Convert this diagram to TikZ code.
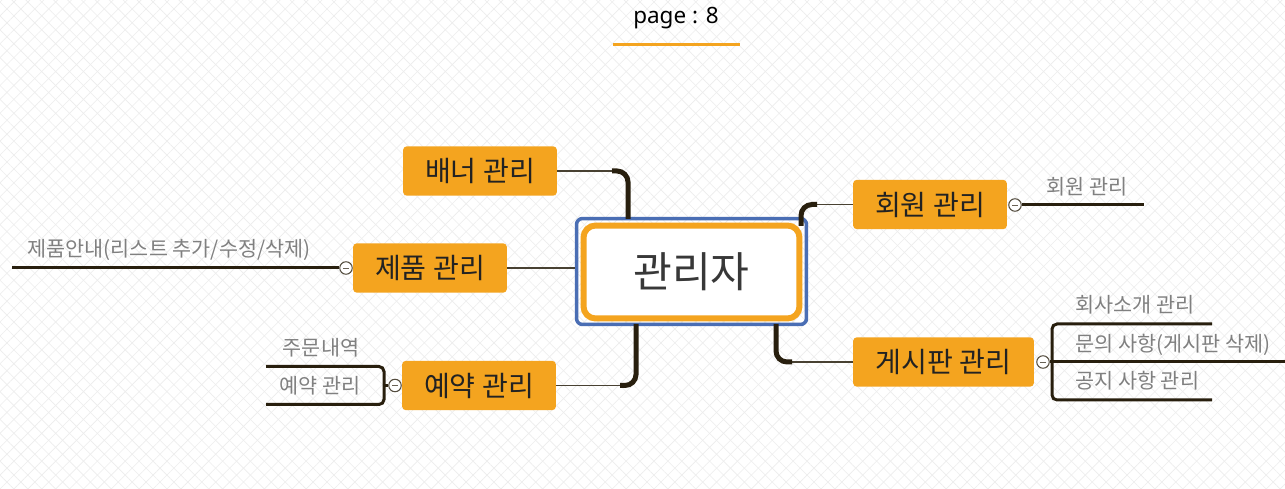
\documentclass[tikz,border=0pt]{standalone}
\usepackage{fontspec}
\usepackage{xcolor}
\usepackage{tikz}
\usetikzlibrary{calc,patterns.meta}
\setmainfont{Noto Sans CJK KR}
\newfontfamily\pagefont{Noto Sans}
\definecolor{morange}{RGB}{244, 164, 31}
\definecolor{mblue}{RGB}{74, 110, 180}
\definecolor{mdark}{RGB}{40, 31, 14}
\definecolor{mgray}{RGB}{128, 128, 128}
\definecolor{mtext}{RGB}{34, 34, 34}
\def\topicSize{\fontsize{16}{18}\selectfont}
\def\leafSize{\fontsize{11.8}{13}\selectfont}
\tikzset{
  topic/.style={fill=morange, rounded corners=0.08cm, minimum width=3.08cm, minimum height=0.99cm, inner sep=0pt, text=mtext, font=\topicSize},
  hub/.style={draw=morange, fill=white, line width=0.12cm, rounded corners=0.24cm, minimum width=4.32cm, minimum height=1.86cm, text=mtext!90!white, font=\fontsize{24}{26}\selectfont},
  selframe/.style={draw=mblue, line width=0.07cm, rounded corners=0.12cm, minimum width=4.6cm, minimum height=2.12cm},
  leaf/.style={text=mgray, inner sep=0pt, font=\leafSize},
  knob/.style={circle, draw=mdark!80!white, fill=white, line width=0.6pt, minimum size=0.25cm, inner sep=0pt,
    path picture={\draw[mdark!70!white, line width=0.4pt] ([xshift=-1.7pt]path picture bounding box.center) -- ([xshift=1.7pt]path picture bounding box.center);}},
  twig/.style={draw=mdark!85!white, line width=0.03cm},
  trunk/.style={draw=mdark, line width=0.1cm, rounded corners=0.22cm},
  stem/.style={draw=mdark, line width=0.06cm, rounded corners=0.1cm}
}

\begin{document}
\begin{tikzpicture}[x=0.02cm, y=-0.02cm]
  \useasboundingbox (0,0) rectangle (1285,489);
  \fill[white] (0,0) rectangle (1285,489);
  \fill[pattern={Lines[angle=45,distance=5.6pt,line width=0.35pt]}, pattern color=black!7] (0,0) rectangle (1285,489);
  \fill[pattern={Lines[angle=-45,distance=5.6pt,line width=0.35pt]}, pattern color=black!7] (0,0) rectangle (1285,489);

  \node[inner sep=0pt, font=\pagefont\fontsize{12.8}{14}\selectfont] (title) at (676,18) {page : 8};
  \coordinate (ulL) at (613,45);
  \coordinate (ulR) at (740,45);
  \draw[morange, line width=0.06cm] (ulL) -- (ulR);

  \node[selframe] (sel) at (691.5,271.5) {};
  \node[hub] (hub) at (691.5,272) {관리자};

  \node[topic] (banner) at (480,171) {배너 관리};
  \node[topic] (product) at (430,268) {제품 관리};
  \node[topic] (booking) at (479,385.5) {예약 관리};
  \node[topic] (member) at (930,204.5) {회원 관리};
  \node[topic, minimum width=3.62cm] (board) at (943.5,362) {게시판 관리};

  \coordinate (hubNW) at (628,219);
  \coordinate (hubSW) at (636,324);
  \coordinate (hubNE) at (801,226);
  \coordinate (hubSE) at (776,324);
  \coordinate (bj) at (banner.east -| hubNW);
  \coordinate (kj) at (booking.east -| hubSW);
  \coordinate (mj) at (member.west -| hubNE);
  \coordinate (gj) at (board.west -| hubSE);
  \draw[twig] (banner.east) -- ($(bj)+(-14,0)$);
  \draw[trunk] ($(bj)+(-16,0)$) -| (hubNW);
  \draw[twig] (booking.east) -- ($(kj)+(-14,0)$);
  \draw[trunk] ($(kj)+(-16,0)$) -| (hubSW);
  \draw[twig] (member.west) -- ($(mj)+(14,0)$);
  \draw[trunk] (hubNE) |- ($(mj)+(16,0)$);
  \draw[twig] (board.west) -- ($(gj)+(14,0)$);
  \draw[trunk] (hubSE) |- ($(gj)+(16,0)$);
  \draw[twig] (product.east) -- (product.east -| sel.west);

  \node[knob] (pk) at (346,268) {};
  \coordinate (pend) at (12,268);
  \draw[stem] (pk.west) -- (pend);
  \node[leaf] (pinfo) at (169,250) {제품안내(리스트 추가/수정/삭제)};

  \node[knob] (bk) at (395,385.5) {};
  \coordinate (bt) at (266,366.5);
  \coordinate (bb) at (266,404.5);
  \coordinate (bc) at (384,385.5);
  \draw[stem] (bt) -| (bc) |- (bb);
  \draw[stem] (bc) -- (bk.west);
  \node[leaf] (order) at (321,348) {주문내역};
  \node[leaf] (bookl) at (320,386) {예약 관리};

  \node[knob] (mk) at (1015,205) {};
  \coordinate (mend) at (1144,205);
  \draw[stem] (mk.east) -- (mend);
  \node[leaf] (meml) at (1087,187) {회원 관리};

  \node[knob] (gk) at (1043,362) {};
  \coordinate (gt) at (1212,324);
  \coordinate (gm) at (1285,362);
  \coordinate (gb) at (1212,400);
  \coordinate (gc) at (1052,362);
  \draw[stem] (gt) -| (gc) |- (gb);
  \draw[stem] (gk.east) -- (gm);
  \node[leaf, anchor=west] (about) at (1075,305) {회사소개 관리};
  \node[leaf, anchor=west] (qna) at (1075,345) {문의 사항(게시판 삭제)};
  \node[leaf, anchor=west] (notice) at (1075,381) {공지 사항 관리};
\end{tikzpicture}
\end{document}
